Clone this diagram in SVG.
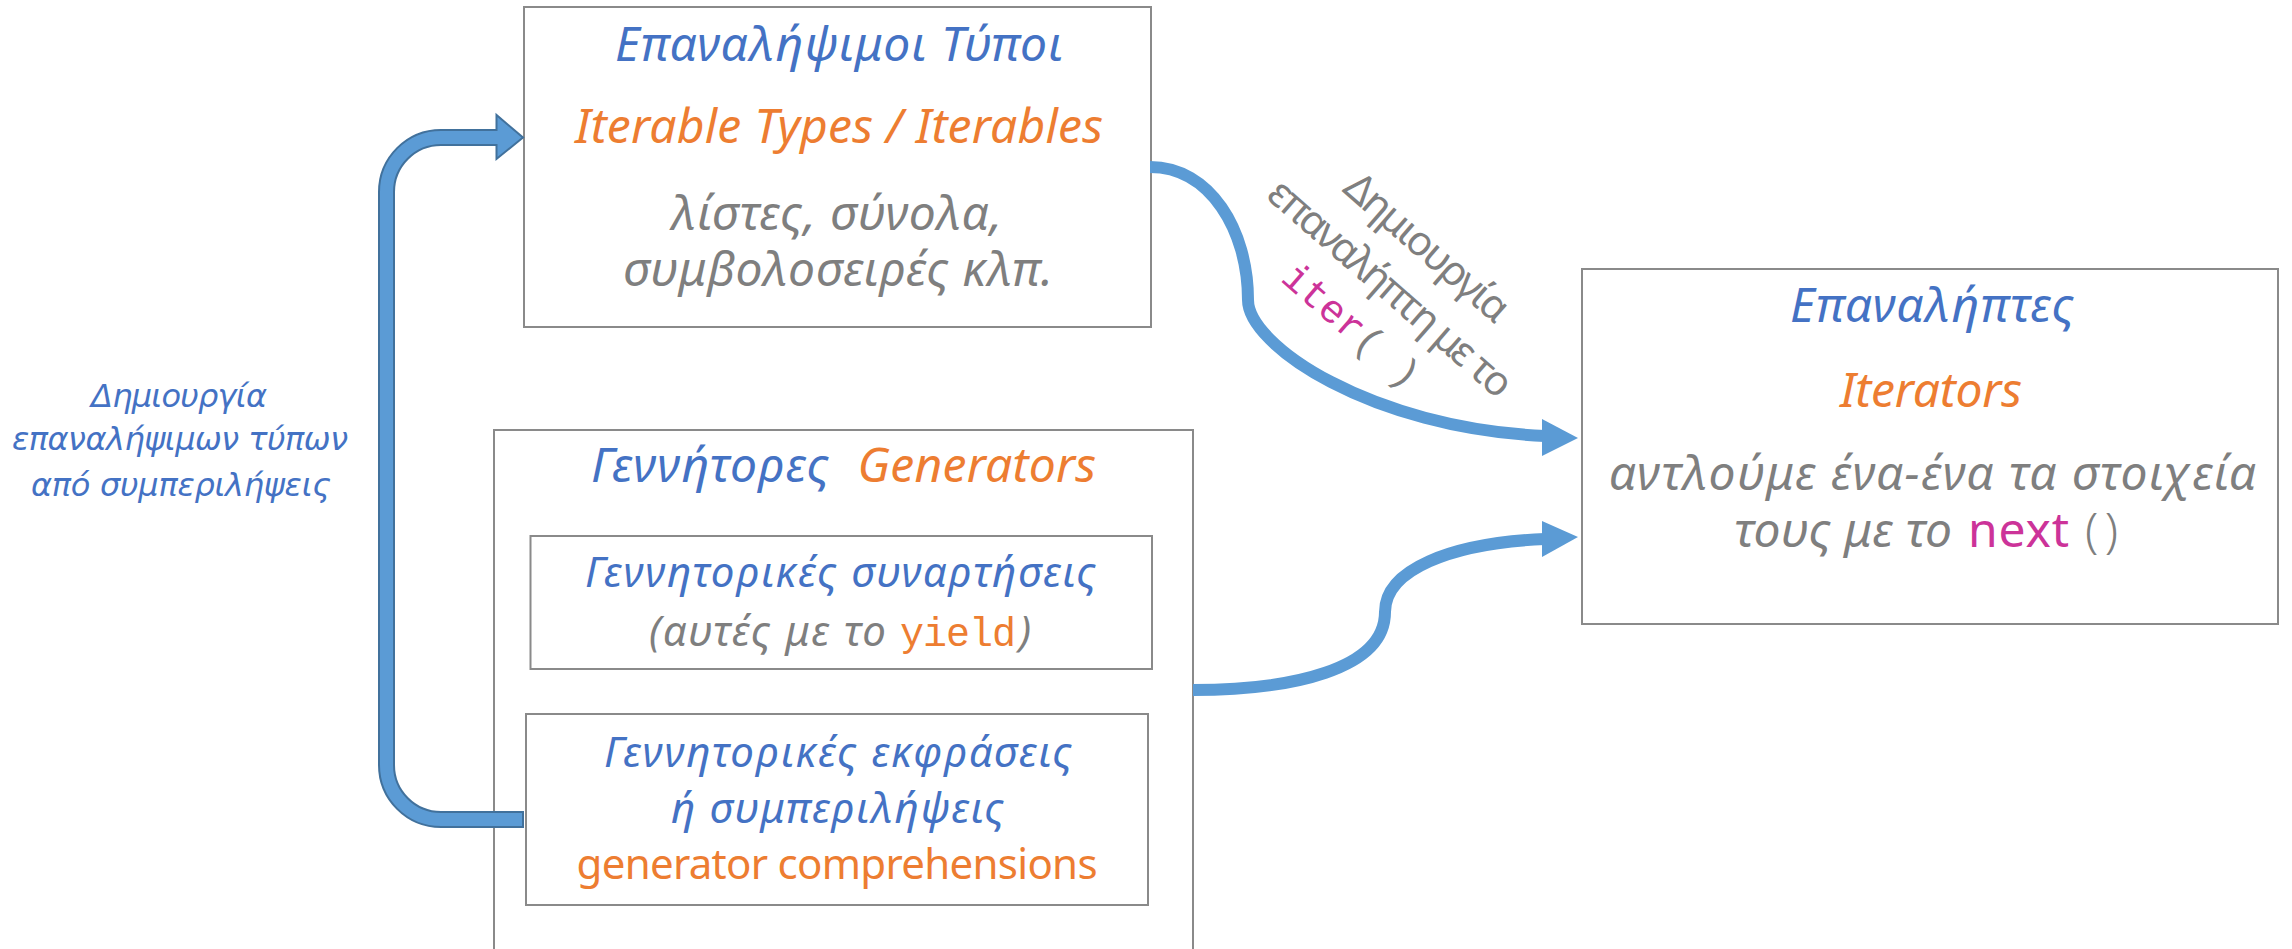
<svg xmlns="http://www.w3.org/2000/svg" width="2292" height="949" viewBox="0 0 2292 949">
<style>
.box{fill:#fff;stroke:#8a8a8a;stroke-width:2}
.it{font-family:"Noto Sans","Liberation Sans",sans-serif;font-style:italic}
.up{font-family:"Noto Sans","Liberation Sans",sans-serif}
.mono{font-family:"Liberation Mono","DejaVu Sans Mono",monospace}
.blue{fill:#4472C4}.orange{fill:#ED7D31}.gray{fill:#7F7F7F}.mag{fill:#CC3399}
.big{font-size:48px}.mid{font-size:42px}
.conn{fill:none;stroke:#5B9BD5;stroke-width:12}
.head{fill:#5B9BD5}
</style>
<rect width="2292" height="949" fill="#fff"/>

<g id="iterables">
<rect class="box" x="524" y="7" width="627" height="320"/>
<text class="it big blue" x="839" y="61" text-anchor="middle" textLength="448">Επαναλήψιμοι Τύποι</text>
<text class="it big orange" x="839" y="143" text-anchor="middle" textLength="528">Iterable Types / Iterables</text>
<text class="it big gray" x="836.5" y="230" text-anchor="middle" textLength="331">λίστες, σύνολα,</text>
<text class="it big gray" x="838" y="286" text-anchor="middle" textLength="430">συμβολοσειρές κλπ.</text>
</g>

<g id="iterators">
<rect class="box" x="1582" y="269" width="696" height="355"/>
<text class="it big blue" x="1932" y="322" text-anchor="middle" textLength="284">Επαναλήπτες</text>
<text class="it big orange" x="1931" y="407" text-anchor="middle" textLength="182">Iterators</text>
<text class="it big gray" x="1932.5" y="490" text-anchor="middle" textLength="647">αντλούμε ένα-ένα τα στοιχεία</text>
<text class="it big gray" x="1734" y="547" textLength="218">τους με το</text>
<text class="up big mag" x="1968" y="547" textLength="101">next</text>
<text class="up big gray" x="2085" y="547" textLength="33" style="font-weight:300">( )</text>
</g>

<g id="generators">
<path class="box" d="M494 960 V430 H1193 V960"/>
<text class="it big blue" x="591" y="482" textLength="238">Γεννήτορες</text>
<text class="it big orange" x="857.5" y="482" textLength="238.5">Generators</text>
</g>

<g id="generator-functions">
<rect class="box" x="530.5" y="536" width="621.5" height="133"/>
<text class="it mid blue" x="840.5" y="587" text-anchor="middle" textLength="511">Γεννητορικές συναρτήσεις</text>
<text class="it mid gray" x="649" y="646" textLength="237">(αυτές με το</text>
<text class="mono orange" x="900" y="646" font-size="40" textLength="116">yield</text>
<text class="it mid gray" x="1019" y="646">)</text>
</g>

<g id="generator-expressions">
<rect class="box" x="526" y="714" width="622" height="191"/>
<text class="it mid blue" x="838" y="767" text-anchor="middle" textLength="468">Γεννητορικές εκφράσεις</text>
<text class="it mid blue" x="837.5" y="823" text-anchor="middle" textLength="333">ή συμπεριλήψεις</text>
<text class="up mid orange" x="837" y="879" text-anchor="middle" textLength="521">generator comprehensions</text>
</g>

<g id="connectors">
<path d="M523 137.5 L496.5 159 L496.5 145 L441 145 A47 47 0 0 0 394 192 L394 765 A47 47 0 0 0 441 812 L523 812 L523 827 L441 827 A62 62 0 0 1 379 765 L379 192 A62 62 0 0 1 441 130 L496.5 130 L496.5 115 Z" fill="#5B9BD5" stroke="#41719C" stroke-width="2" stroke-linejoin="miter"/>
<path class="conn" d="M1150 167 C1210 167 1248 230 1248 300 C1248 345 1370 428 1545 436"/>
<polygon class="head" points="1542,419 1578,438 1542,456"/>
<path class="conn" d="M1193 690 C1290 690 1385 670 1385 612 C1385 570 1450 543 1545 539"/>
<polygon class="head" points="1542,521 1578,537 1542,557"/>
</g>

<g id="label-comprehensions" font-family="'DejaVu Sans',Verdana,sans-serif" font-style="italic" font-size="32" fill="#4472C4" text-anchor="middle">
<text x="179" y="407" textLength="176">Δημιουργία</text>
<text x="180" y="450" textLength="336">επαναλήψιμων τύπων</text>
<text x="181" y="496" textLength="300">από συμπεριλήψεις</text>
</g>

<g id="label-iter" transform="translate(1388,291) rotate(41)" text-anchor="middle">
<text class="up gray" x="1" y="-45" font-size="41" textLength="204">Δημιουργία</text>
<text class="up gray" x="0" y="10" font-size="41" textLength="309">επαναλήπτη με το</text>
<text class="mono" x="-5" y="63" font-size="40"><tspan class="mag">iter</tspan><tspan class="gray">( )</tspan></text>
</g>
</svg>
